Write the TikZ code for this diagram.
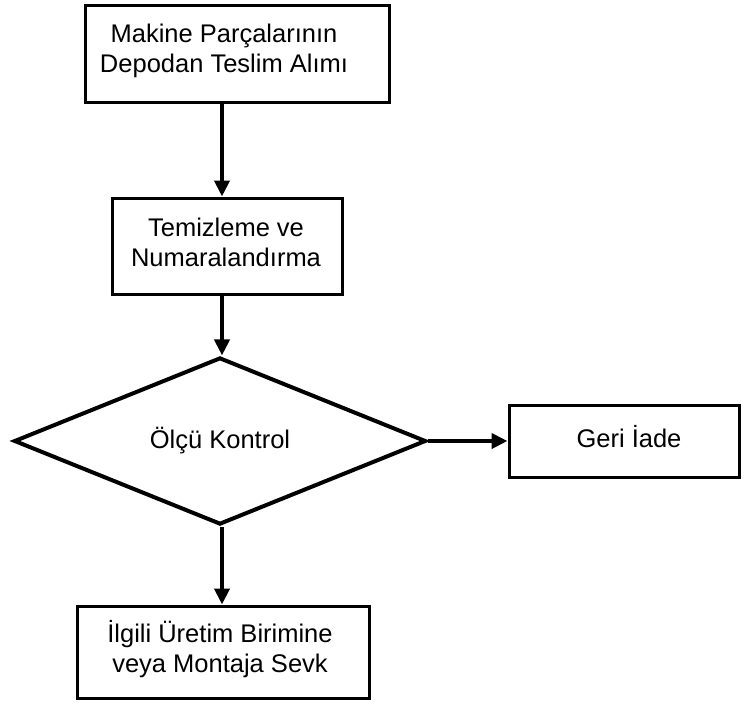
\documentclass[tikz,border=0pt]{standalone}
\usepackage{fontspec}
\setmainfont{Liberation Sans}
\usetikzlibrary{shapes.geometric,arrows.meta}

\begin{document}
\begin{tikzpicture}[x=1pt,y=-1pt,
  kutu/.style={draw=black,line width=3pt,inner sep=0pt},
  yazi/.style={align=center,inner sep=0pt,font=\fontsize{25.5}{30}\selectfont},
  karar/.style={draw=black,diamond,line width=4pt,inner sep=0pt,font=\fontsize{25.5}{30}\selectfont},
  ok/.style={-{Triangle[length=16pt,width=15pt]},line width=4pt}]
\useasboundingbox (0,0) rectangle (741,707);
\coordinate (eksen) at (222,0);
\node[kutu,minimum width=304pt,minimum height=97pt] (teslim) at (237,53.5) {};
\node[yazi] (teslimyazi) at (224,51) {Makine Parçalarının\\Depodan Teslim Alımı};
\node[kutu,minimum width=230pt,minimum height=96pt] (temizle) at (227,246) {};
\node[yazi] (temizleyazi) at (226,242) {Temizleme ve\\Numaralandırma};
\node[karar,minimum width=412pt,minimum height=145pt] (olcu) at (220,441) {Ölçü Kontrol};
\node[kutu,minimum width=230pt,minimum height=72pt] (iade) at (624,441) {};
\node[yazi] (iadeyazi) at (629,437) {Geri İade};
\node[kutu,minimum width=292pt,minimum height=92pt] (sevk) at (223,652) {};
\node[yazi] (sevkyazi) at (220,649) {İlgili Üretim Birimine\\veya Montaja Sevk};
\draw[ok] (eksen |- teslim.south) -- (eksen |- temizle.north);
\draw[ok] (eksen |- temizle.south) -- (eksen |- olcu.north);
\draw[ok] (olcu.east) -- (iade.west);
\draw[ok] (eksen |- olcu.south) -- (eksen |- sevk.north);
\end{tikzpicture}
\end{document}
